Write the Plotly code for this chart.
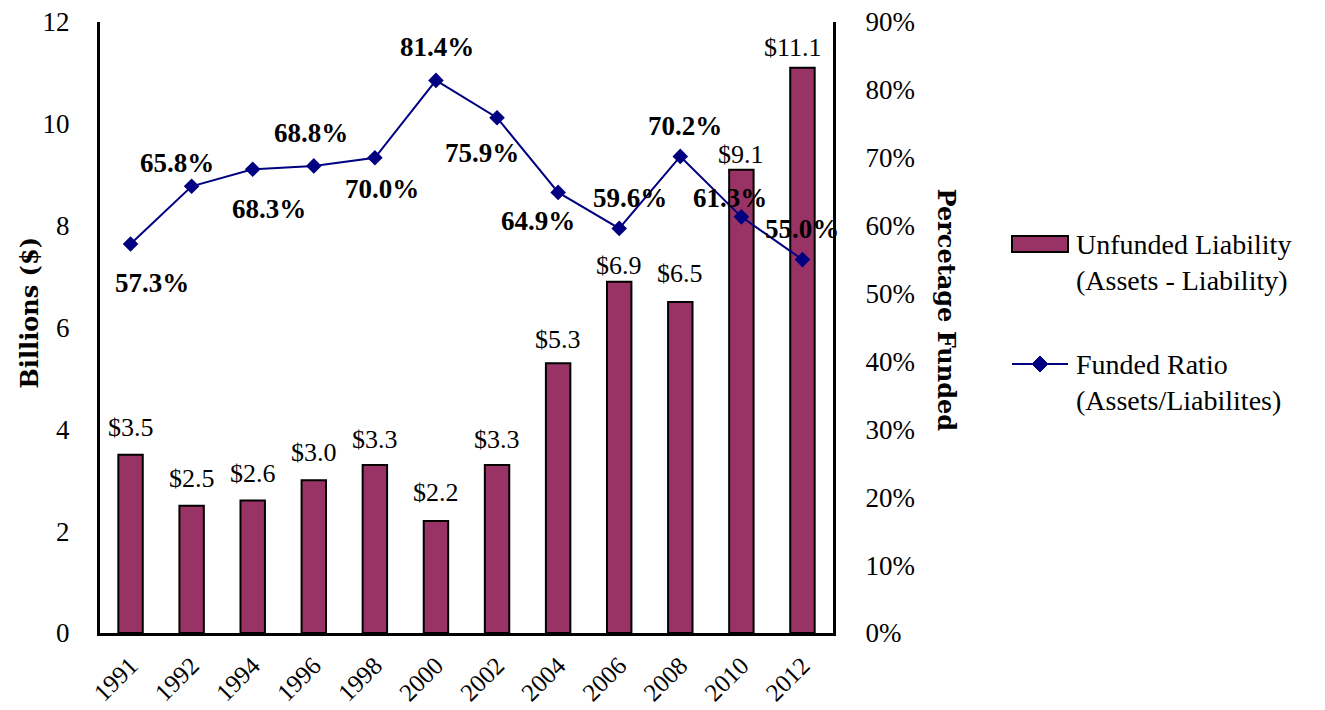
import plotly.graph_objects as go

# ---- data -------------------------------------------------------------
years = ["1991", "1992", "1994", "1996", "1998", "2000",
         "2002", "2004", "2006", "2008", "2010", "2012"]
unfunded_liability = [3.5, 2.5, 2.6, 3.0, 3.3, 2.2, 3.3, 5.3, 6.9, 6.5, 9.1, 11.1]
funded_ratio = [57.3, 65.8, 68.3, 68.8, 70.0, 81.4, 75.9, 64.9, 59.6, 70.2, 61.3, 55.0]

left_ticks = [0, 2, 4, 6, 8, 10, 12]
right_ticks = [0, 10, 20, 30, 40, 50, 60, 70, 80, 90]

# ---- label nudges (pixels) ---------------------------------------------
pct_label_dx = [21, -15, 16, -3, 7, 1, -15, -20, 11, 5, -11, 0]
pct_label_dy = [-39, 23, -40, 33, -31, 33, -35, -29, 30, 30, 19, 31]
bar_label_dy = [27, 27, 27, 28, 25, 28, 25, 24, 16, 29, 15, 20]
bar_label_dx = [0, 0, 0, 0, 0, 0, 0, 0, 0, 0, 0, -9]

# ---- geometry ------------------------------------------------------------
W, H = 1325, 710
PL, PR, PT, PB = 100, 833, 22, 633  # plot-area edges in pixels

FONT = "Liberation Serif"
TITLE_FONT = "DejaVu Serif"
BAR_COLOR = "#993366"
LINE_COLOR = "#000080"


def px_x(px):
    return (px - PL) / (PR - PL)


def px_y(py):
    return (PB - py) / (PB - PT)


fig = go.Figure()

fig.add_trace(go.Bar(
    x=years, y=unfunded_liability, yaxis="y",
    marker=dict(color=BAR_COLOR, line=dict(color="black", width=2)),
    showlegend=False, hoverinfo="skip",
))

fig.add_trace(go.Scatter(
    x=years, y=funded_ratio, yaxis="y2", mode="lines+markers",
    line=dict(color=LINE_COLOR, width=2),
    marker=dict(symbol="diamond", size=12, color=LINE_COLOR),
    showlegend=False, hoverinfo="skip",
))

annotations = []

# value labels above the bars (x given as category index)
for i, (v, dx, dy) in enumerate(zip(unfunded_liability, bar_label_dx, bar_label_dy)):
    annotations.append(dict(
        x=i, y=v, xref="x", yref="y", text=f"${v:.1f}", showarrow=False,
        xshift=dx, yshift=dy, yanchor="middle",
        font=dict(family=FONT, size=26, color="black"),
    ))

# percentage labels around the line
for i, (p, dx, dy) in enumerate(zip(funded_ratio, pct_label_dx, pct_label_dy)):
    annotations.append(dict(
        x=i, y=p, xref="x", yref="y2", text=f"<b>{p:.1f}%</b>", showarrow=False,
        xshift=dx, yshift=dy, yanchor="middle",
        font=dict(family=FONT, size=27, color="black"),
    ))

# axis titles
annotations.append(dict(
    x=px_x(12), y=px_y(313), xref="paper", yref="paper", text="<b>Billions ($)</b>",
    textangle=-90, showarrow=False, font=dict(family=TITLE_FONT, size=24, color="black"),
))
annotations.append(dict(
    x=px_x(962), y=px_y(310), xref="paper", yref="paper", text="<b>Percetage Funded</b>",
    textangle=90, showarrow=False, font=dict(family=TITLE_FONT, size=24, color="black"),
))

# legend text
legend_lines = [
    ("Unfunded Liability", 244), ("(Assets - Liability)", 280),
    ("Funded Ratio", 364), ("(Assets/Liabilites)", 400),
]
for txt, py in legend_lines:
    annotations.append(dict(
        x=px_x(1074), y=px_y(py), xref="paper", yref="paper", text=txt,
        xanchor="left", yanchor="middle", showarrow=False,
        font=dict(family=FONT, size=28, color="black"),
    ))

shapes = [
    # legend swatch for the bars
    dict(type="rect", xref="paper", yref="paper",
         x0=px_x(1012), x1=px_x(1068), y0=px_y(236), y1=px_y(252),
         fillcolor=BAR_COLOR, line=dict(color="black", width=2)),
    # legend swatch for the line
    dict(type="line", xref="paper", yref="paper",
         x0=px_x(1012), x1=px_x(1068), y0=px_y(364), y1=px_y(364),
         line=dict(color=LINE_COLOR, width=2)),
    dict(type="path", xref="paper", yref="paper",
         path=(f"M {px_x(1040)} {px_y(356)} L {px_x(1048)} {px_y(364)} "
               f"L {px_x(1040)} {px_y(372)} L {px_x(1032)} {px_y(364)} Z"),
         fillcolor=LINE_COLOR, line=dict(color=LINE_COLOR, width=1)),
]

fig.update_layout(
    width=W, height=H,
    margin=dict(l=PL, r=W - PR, t=PT, b=H - PB, pad=0, autoexpand=False),
    paper_bgcolor="white", plot_bgcolor="white",
    bargap=0.6,
    font=dict(family=FONT, size=26, color="black"),
    xaxis=dict(
        type="category", range=[-0.5, len(years) - 0.5], autorange=False,
        automargin=False, showgrid=False, zeroline=False,
        showline=True, linecolor="black", linewidth=3,
        ticks="", tickangle=-45, ticklabelstandoff=5,
        tickfont=dict(family=FONT, size=25, color="black"),
    ),
    yaxis=dict(
        range=[0, 12], autorange=False, tickvals=left_ticks, automargin=False,
        showgrid=False, zeroline=False,
        showline=True, linecolor="black", linewidth=3, ticks="",
        ticklabelstandoff=22,
        tickfont=dict(family=FONT, size=27, color="black"),
    ),
    yaxis2=dict(
        range=[0, 90], autorange=False, tickvals=right_ticks, automargin=False,
        ticktext=[f"{t}%" for t in right_ticks],
        overlaying="y", side="right", showgrid=False, zeroline=False,
        showline=True, linecolor="black", linewidth=3, ticks="",
        ticklabelstandoff=24,
        tickfont=dict(family=FONT, size=27, color="black"),
    ),
    annotations=annotations,
    shapes=shapes,
)

fig.write_html("out.html")
